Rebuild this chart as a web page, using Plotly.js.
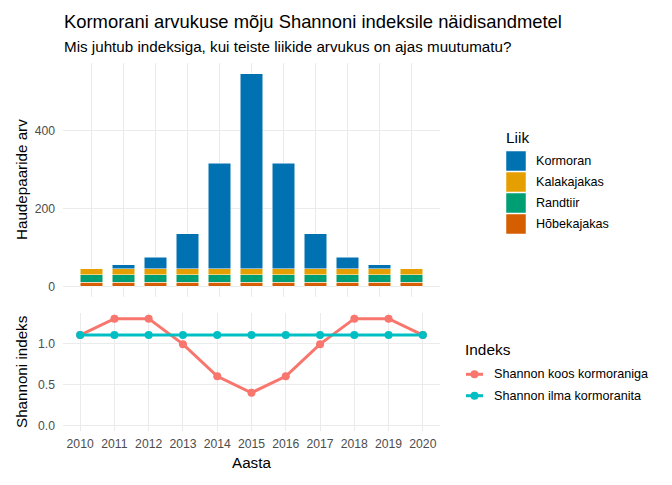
<!DOCTYPE html>
<html>
<head>
<meta charset="utf-8">
<script src="https://cdn.plot.ly/plotly-3.0.1.min.js"></script>
<style>
  html, body { margin: 0; padding: 0; background: #ffffff; }
  #chart { width: 672px; height: 485px; }
</style>
</head>
<body>
<div id="chart"></div>
<script>
// Pesitsevate paaride arv liigiti ja aastati
const years = [2010, 2011, 2012, 2013, 2014, 2015, 2016, 2017, 2018, 2019, 2020];
const kormoran    = [0, 10, 30, 90, 270, 500, 270, 90, 30, 10, 0];
const kalakajakas = [15, 15, 15, 15, 15, 15, 15, 15, 15, 15, 15];
const randtiir    = [20, 20, 20, 20, 20, 20, 20, 20, 20, 20, 20];
const hobekajakas = [10, 10, 10, 10, 10, 10, 10, 10, 10, 10, 10];

// Shannoni indeks koos kormoraniga ja ilma
const shannonKoos = [1.10, 1.30, 1.30, 0.99, 0.60, 0.40, 0.60, 0.99, 1.30, 1.30, 1.10];
const shannonIlma = [1.10, 1.10, 1.10, 1.10, 1.10, 1.10, 1.10, 1.10, 1.10, 1.10, 1.10];

const speciesNames = ['Kormoran', 'Kalakajakas', 'Randtiir', 'Hõbekajakas'];
const speciesColors = ['#0072B2', '#E69F00', '#009E73', '#D55E00'];
const indexNames = ['Shannon koos kormoraniga', 'Shannon ilma kormoranita'];
const indexColors = ['#F8766D', '#00BFC4'];

const yTicksTop = [0, 200, 400];
const yTicksBottom = [0, 0.5, 1.0];
const yTickTextBottom = ['0.0', '0.5', '1.0'];

// page geometry (pixels)
const W = 672, H = 485;
const M = { l: 63, r: 232, t: 63, b: 54 };
const pw = W - M.l - M.r;
const ph = H - M.t - M.b;
const fx = p => (p - M.l) / pw;
const fy = p => (H - M.b - p) / ph;

const FONT = 'Liberation Sans, Arial, sans-serif';
const GRID = '#EBEBEB';
const TICK = '#4D4D4D';

const barSeries = [
  { name: 'Hõbekajakas', y: hobekajakas, color: speciesColors[3] },
  { name: 'Randtiir', y: randtiir, color: speciesColors[2] },
  { name: 'Kalakajakas', y: kalakajakas, color: speciesColors[1] },
  { name: 'Kormoran', y: kormoran, color: speciesColors[0] }
];

const traces = barSeries.map(s => ({
  type: 'bar',
  x: years,
  y: s.y,
  name: s.name,
  width: 0.7,
  xaxis: 'x',
  yaxis: 'y',
  marker: { color: s.color, line: { color: '#ffffff', width: 0.5 } },
  showlegend: false,
  hoverinfo: 'x+y+name'
}));

[shannonKoos, shannonIlma].forEach((vals, i) => {
  traces.push({
    type: 'scatter',
    mode: 'lines+markers',
    x: years,
    y: vals,
    name: indexNames[i],
    xaxis: 'x2',
    yaxis: 'y2',
    line: { color: indexColors[i], width: 3 },
    marker: { color: indexColors[i], size: 8 },
    showlegend: false
  });
});

const shapes = [];
const annotations = [];

function text(str, x, y, size, opts) {
  annotations.push(Object.assign({
    text: str, xref: 'paper', yref: 'paper', x: fx(x), y: fy(y),
    xanchor: 'left', yanchor: 'middle', showarrow: false,
    font: { family: FONT, size: size, color: '#000000' }
  }, opts || {}));
}

// titles
text('Kormorani arvukuse mõju Shannoni indeksile näidisandmetel', 62, 21.5, 18.4);
text('Mis juhtub indeksiga, kui teiste liikide arvukus on ajas muutumatu?', 62, 46.5, 15.2);

// axis titles
text('Haudepaaride arv', 21, 180, 15.2, { xanchor: 'center', textangle: -90 });
text('Shannoni indeks', 21, 372, 15.2, { xanchor: 'center', textangle: -90 });
text('Aasta', 251, 462, 15.2, { xanchor: 'center' });

// species legend
text('Liik', 504, 137, 15.4);
speciesNames.forEach((n, i) => {
  const top = 151 + i * 21;
  shapes.push({
    type: 'rect', xref: 'paper', yref: 'paper',
    x0: fx(506), x1: fx(526), y0: fy(top), y1: fy(top + 20),
    fillcolor: speciesColors[i], line: { color: '#ffffff', width: 0.5 }
  });
  text(n, 534, top + 10, 12.6);
});

// index legend
text('Indeks', 463, 349, 15.4);
indexNames.forEach((n, i) => {
  const yc = 374.3 + i * 21.4;
  shapes.push({
    type: 'line', xref: 'paper', yref: 'paper',
    x0: fx(466), x1: fx(483), y0: fy(yc), y1: fy(yc),
    line: { color: indexColors[i], width: 3 }
  });
  shapes.push({
    type: 'circle', xref: 'paper', yref: 'paper',
    x0: fx(470.5), x1: fx(478.5), y0: fy(yc - 4), y1: fy(yc + 4),
    fillcolor: indexColors[i], line: { width: 0 }
  });
  text(n, 492, yc, 12.6);
});

const axisCommon = {
  showgrid: true, gridcolor: GRID, gridwidth: 1,
  zeroline: false, showline: false, ticks: '',
  tickfont: { family: FONT, size: 12.2, color: TICK },
  fixedrange: true
};

const layout = {
  width: W, height: H,
  margin: M,
  paper_bgcolor: '#ffffff',
  plot_bgcolor: '#ffffff',
  barmode: 'stack',
  showlegend: false,
  font: { family: FONT },
  xaxis: Object.assign({}, axisCommon, {
    domain: [0, 1], anchor: 'y',
    range: [2009.115, 2020.885],
    tickvals: years, showticklabels: false
  }),
  yaxis: Object.assign({}, axisCommon, {
    domain: [fy(297), 1], anchor: 'x',
    range: [-27.25, 572.25],
    tickvals: yTicksTop, ticklabelstandoff: 7
  }),
  xaxis2: Object.assign({}, axisCommon, {
    domain: [0, 1], anchor: 'y2',
    range: [2009.5, 2020.5],
    tickvals: years, ticktext: years.map(String), ticklabelstandoff: 4
  }),
  yaxis2: Object.assign({}, axisCommon, {
    domain: [0, fy(313.3)], anchor: 'x2',
    range: [-0.065, 1.365],
    tickvals: yTicksBottom, ticktext: yTickTextBottom, ticklabelstandoff: 7
  }),
  shapes: shapes,
  annotations: annotations
};

Plotly.newPlot('chart', traces, layout, { displayModeBar: false, staticPlot: true });
</script>
</body>
</html>
